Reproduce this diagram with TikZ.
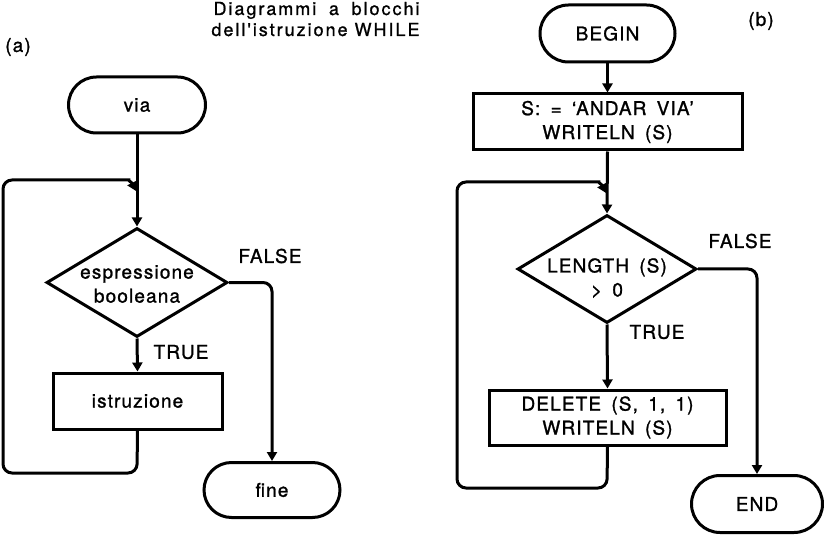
\documentclass[tikz,border=0pt]{standalone}
\usepackage{fontspec}
\setmainfont{TeX Gyre Heros}[LetterSpace=6,WordSpace=1.6,FakeBold=1.2]
\newfontfamily\headingfont{TeX Gyre Heros}[LetterSpace=11,FakeBold=1.0]
\usetikzlibrary{arrows.meta,shapes.geometric,shapes.misc}

\begin{document}
\begin{tikzpicture}[x=1pt,y=-1pt,line width=3pt,
  txt/.style={font=\fontsize{19}{24}\selectfont,align=center,inner sep=0pt},
  term/.style={rounded rectangle,draw,inner sep=0pt,minimum height=56pt,
               font=\fontsize{19}{24}\selectfont},
  proc/.style={rectangle,draw,inner sep=0pt,align=center,
               font=\fontsize{19}{24}\selectfont},
  decision/.style={diamond,draw,inner sep=0pt},
  heading/.style={anchor=base east,inner sep=0pt,font=\headingfont\fontsize{18}{21}\selectfont},
  flow/.style={-{Triangle[length=9pt,width=10pt]},rounded corners=9pt}]
\useasboundingbox (0,0) rectangle (824,537);

% heading and panel tags
\node[heading] (t2) at (421,36) {dell'istruzione WHILE};
\node[heading] (t1) at (421,15) {\makebox[206pt][s]{Diagrammi a blocchi}};
\node[txt] (tagA) at (18,47) {(a)};
\node[txt] (tagB) at (761,21) {(b)};

% ---------------- (a) generic WHILE ----------------
\node[term,minimum width=137pt] (via) at (137,105) {via};
\node[decision,minimum width=181pt,minimum height=109pt] (dA) at (137,282.5) {};
\node[txt] (dAtext) at (137,284) {espressione\\booleana};
\node[proc,minimum width=169pt,minimum height=56pt] (istr) at (137.5,401) {istruzione};
\node[term,minimum width=136pt,minimum height=55pt] (fine) at (272,490) {fine};
\node[txt] (falseA) at (270,256) {FALSE};
\node[txt] (trueA) at (181,352) {TRUE};
\coordinate (jA) at (136,191);

\draw[flow] (via.south) -- (dA.north);
\draw[flow] (dA.south) -- (istr.north);
\draw[flow] (dA.east) -| (fine.north);
\draw[flow] (istr.south) -- (137,473) -- (3,473) -- (3,180) -- (120,180)
  .. controls (128,180) and (132,183) .. (jA);

% ---------------- (b) example program ----------------
\node[term,minimum width=135pt,minimum height=57pt] (begin) at (607.5,33.5) {BEGIN};
\node[proc,minimum width=269pt,minimum height=56pt] (init) at (607.5,122)
  {S: = ‘ANDAR VIA’\\WRITELN (S)};
\node[decision,minimum width=179pt,minimum height=108pt] (dB) at (607,269) {};
\node[txt] (dBtext) at (607,278) {LENGTH (S)\\> 0};
\node[proc,minimum width=237pt,minimum height=55pt] (body) at (607.5,417.5)
  {DELETE (S, 1, 1)\\WRITELN (S)};
\node[term,minimum width=131pt,minimum height=57pt] (end) at (757,504) {END};
\node[txt] (falseB) at (740,241) {FALSE};
\node[txt] (trueB) at (657,332) {TRUE};
\coordinate (jB) at (606,193);

\draw[flow] (begin.south) -- (init.north);
\draw[flow] (init.south) -- (dB.north);
\draw[flow] (dB.south) -- (body.north);
\draw[flow] (dB.east) -| (end.north);
\draw[flow] (body.south) -- (607,488) -- (457,488) -- (457,182) -- (590,182)
  .. controls (598,182) and (602,185) .. (jB);
\end{tikzpicture}
\end{document}
